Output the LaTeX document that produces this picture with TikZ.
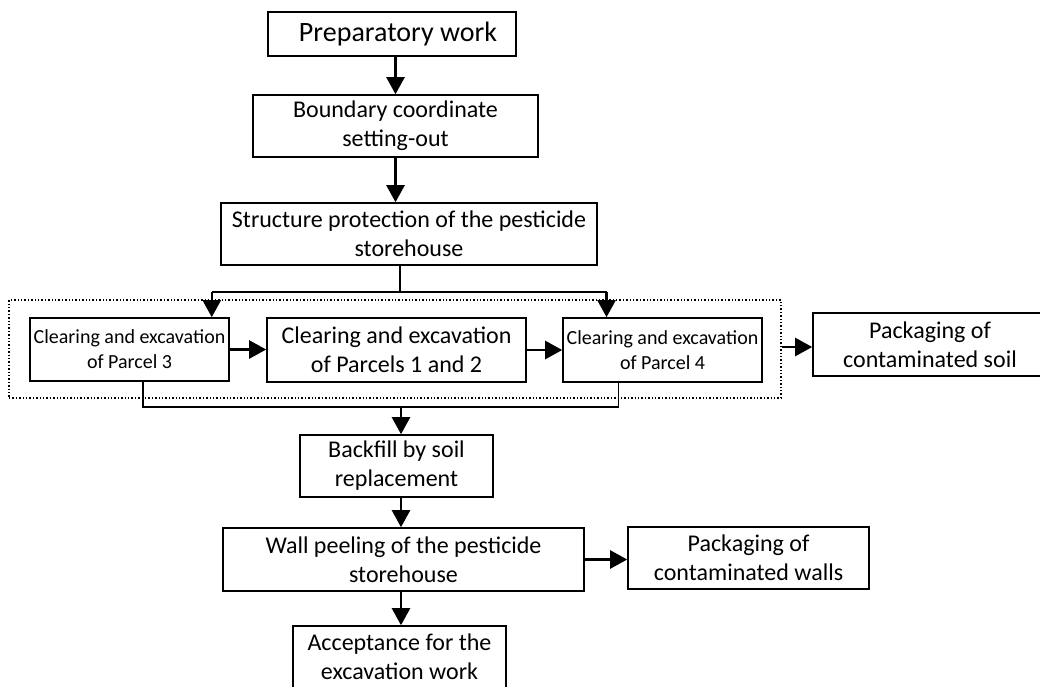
\documentclass[tikz,border=0pt]{standalone}
\usepackage{fontspec}
\setmainfont{Carlito}
\usetikzlibrary{arrows.meta,calc}
\begin{document}
\begin{tikzpicture}[x=1pt,y=-1pt,
  box/.style={draw,line width=1.6pt,rectangle,align=center,inner sep=0pt,font=\fontsize{24}{29}\selectfont},
  smallbox/.style={box,font=\fontsize{20}{25}\selectfont},
  arr/.style={line width=2.4pt,-{Triangle[width=18pt,length=17pt]}},
  link/.style={line width=1.6pt},
  grp/.style={draw,line width=1.4pt,dotted,inner sep=0pt}]
\useasboundingbox (0,0) rectangle (1040,686);
\node[box,minimum width=248pt,minimum height=44pt,font=\fontsize{28}{32}\selectfont] (prep) at (392,34) {\hspace*{12pt}Preparatory work};
\node[box,minimum width=285pt,minimum height=62pt] (bound) at (395.5,126) {Boundary coordinate\\setting-out};
\node[box,minimum width=376pt,minimum height=62pt] (struct) at (409,234) {Structure protection of the pesticide\\storehouse};
\node[grp,minimum width=772pt,minimum height=98pt] (group) at (395,349) {};
\node[smallbox,minimum width=199pt,minimum height=63pt] (p3) at (129.5,349.5) {Clearing and excavation\\of Parcel 3};
\node[box,minimum width=259pt,minimum height=64pt] (mid) at (396.5,350) {Clearing and excavation\\of Parcels 1 and 2};
\node[smallbox,minimum width=199pt,minimum height=64pt] (p4) at (662.5,350) {Clearing and excavation\\of Parcel 4};
\node[box,minimum width=234pt,minimum height=63pt] (soil) at (930,344.5) {Packaging of\\contaminated soil};
\node[box,minimum width=193pt,minimum height=62pt] (back) at (396.5,466) {Backfill by soil\\replacement};
\node[box,minimum width=361pt,minimum height=63pt] (wall) at (403.5,559.5) {Wall peeling of the pesticide\\storehouse};
\node[box,minimum width=241pt,minimum height=62pt] (walls) at (748.5,558) {Packaging of\\contaminated walls};
\node[box,minimum width=213pt,minimum height=62pt] (accept) at (399.5,657) {Acceptance for the\\excavation work};
\coordinate (br) at (400,292);
\coordinate (jn) at (401,407);
\coordinate (p3in) at ($(p3.north west)!0.91!(p3.north east)$);
\coordinate (p4in) at ($(p4.north west)!0.221!(p4.north east)$);
\coordinate (p3out) at ($(p3.south west)!0.568!(p3.south east)$);
\coordinate (p4out) at ($(p4.south west)!0.281!(p4.south east)$);
\draw[arr] (bound.north |- prep.south) -- (bound.north);
\draw[arr] (bound.south) -- (bound.south |- struct.north);
\draw[link] (br |- struct.south) -- (br);
\draw[link] (p3in |- br) -- (p4in |- br);
\draw[arr] (p3in |- br) -- (p3in);
\draw[arr] (p4in |- br) -- (p4in);
\draw[arr] (p3.east) -- (p3.east -| mid.west);
\draw[arr] (mid.east) -- (mid.east -| p4.west);
\draw[arr] ($(group.east)+(0,-2)$) -- ($(group.east -| soil.west)+(0,-2)$);
\draw[link] (p3out) |- (jn) -| (p4out);
\draw[arr] (jn) -- (jn |- back.north);
\draw[arr] (jn |- back.south) -- (jn |- wall.north);
\draw[arr] (jn |- wall.south) -- (jn |- accept.north);
\draw[arr] (wall.east) -- (wall.east -| walls.west);
\end{tikzpicture}
\end{document}
